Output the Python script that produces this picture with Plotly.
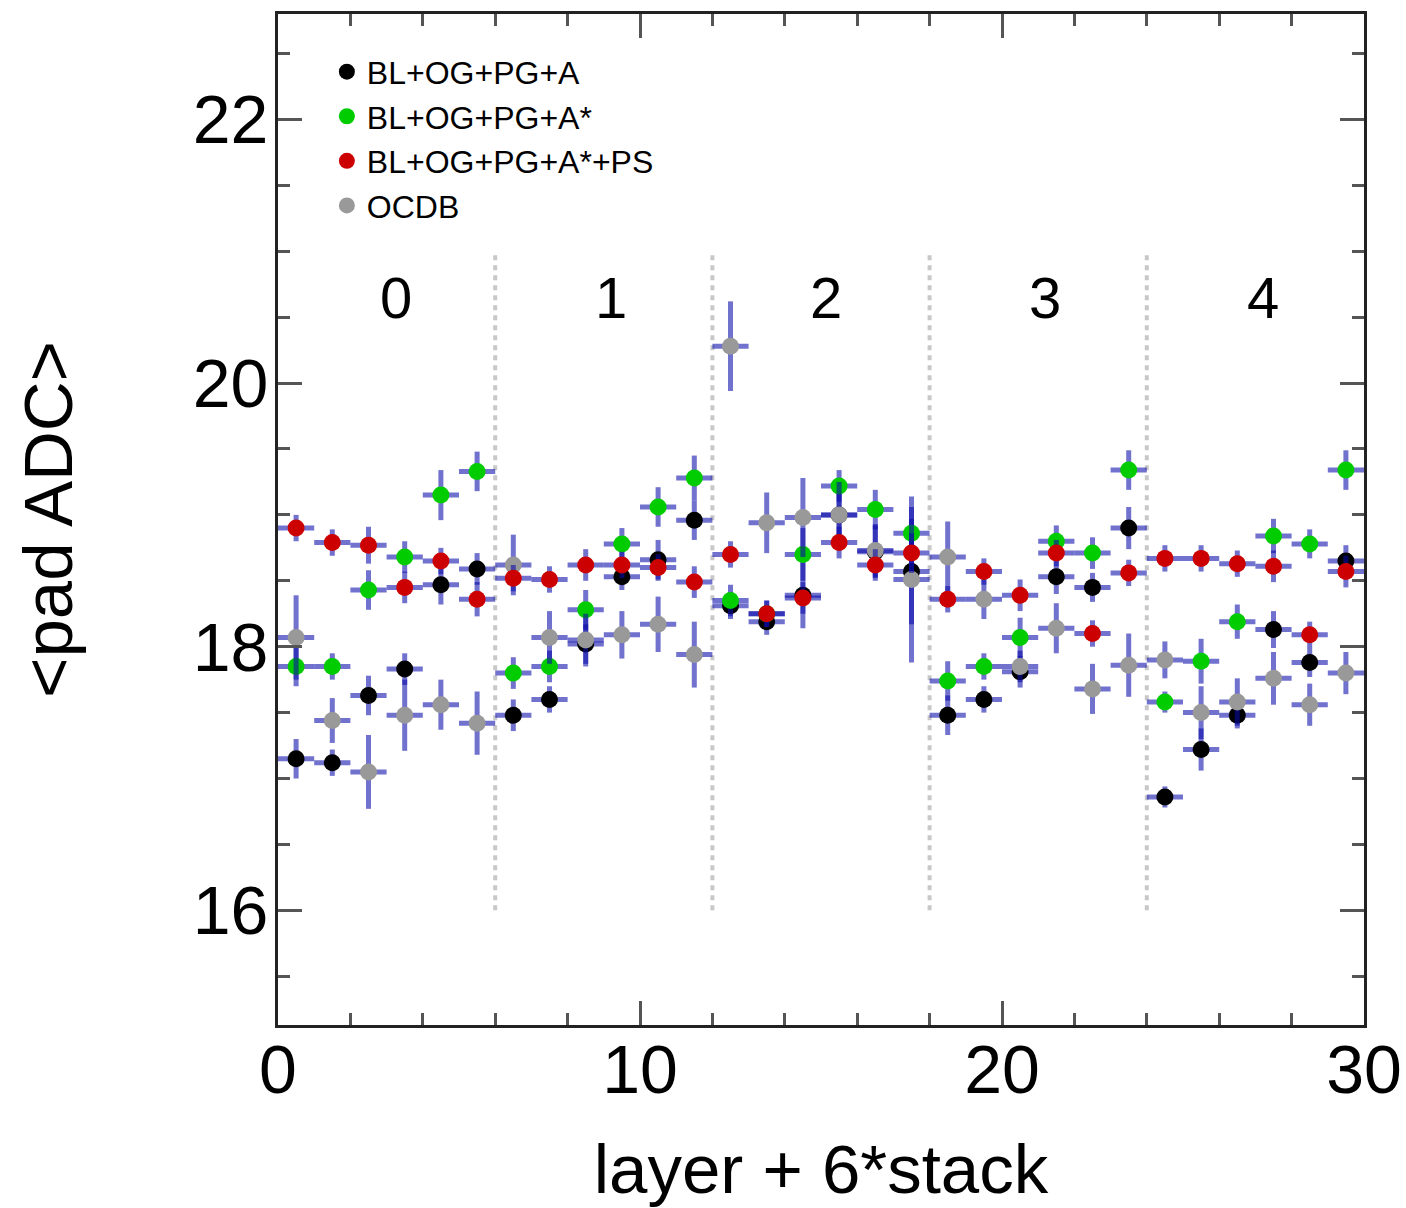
import plotly.graph_objects as go

# ---------------- data ----------------
bin_centers = [0.5, 1.5, 2.5, 3.5, 4.5, 5.5, 6.5, 7.5, 8.5, 9.5,
               10.5, 11.5, 12.5, 13.5, 14.5, 15.5, 16.5, 17.5, 18.5, 19.5,
               20.5, 21.5, 22.5, 23.5, 24.5, 25.5, 26.5, 27.5, 28.5, 29.5]
bin_halfwidth = [0.5] * 30

names = ["BL+OG+PG+A", "BL+OG+PG+A*", "BL+OG+PG+A*+PS", "OCDB"]

black_y = [17.15, 17.12, 17.63, 17.83, 18.47, 18.59, 17.48, 17.60, 18.02, 18.53,
           18.66, 18.96, 18.31, 18.19, 18.39, 19.00, 18.72, 18.57, 17.48, 17.60,
           17.81, 18.53, 18.45, 18.90, 16.86, 17.22, 17.48, 18.13, 17.88, 18.65]
black_err = [0.15, 0.10, 0.15, 0.12, 0.15, 0.12, 0.12, 0.10, 0.15, 0.10,
             0.15, 0.15, 0.10, 0.10, 0.25, 0.20, 0.20, 0.40, 0.15, 0.10,
             0.12, 0.13, 0.11, 0.16, 0.08, 0.16, 0.10, 0.14, 0.11, 0.12]

green_y = [17.85, 17.85, 18.43, 18.68, 19.15, 19.33, 17.80, 17.85, 18.28, 18.78,
           19.06, 19.28, 18.35, 18.25, 18.70, 19.22, 19.04, 18.86, 17.74, 17.85,
           18.07, 18.80, 18.71, 19.34, 17.58, 17.89, 18.19, 18.84, 18.78, 19.34]
green_err = [0.15, 0.10, 0.15, 0.12, 0.19, 0.15, 0.12, 0.12, 0.15, 0.12,
             0.15, 0.17, 0.12, 0.10, 0.20, 0.12, 0.15, 0.20, 0.15, 0.10,
             0.15, 0.12, 0.12, 0.15, 0.08, 0.17, 0.13, 0.13, 0.11, 0.15]

red_y = [18.90, 18.79, 18.77, 18.45, 18.65, 18.36, 18.52, 18.51, 18.62, 18.62,
         18.60, 18.49, 18.70, 18.25, 18.37, 18.79, 18.62, 18.71, 18.36, 18.57,
         18.39, 18.71, 18.10, 18.56, 18.67, 18.67, 18.63, 18.61, 18.09, 18.57]
red_err = [0.10, 0.10, 0.14, 0.12, 0.10, 0.13, 0.10, 0.10, 0.12, 0.10,
           0.10, 0.12, 0.10, 0.10, 0.12, 0.12, 0.12, 0.15, 0.10, 0.10,
           0.12, 0.10, 0.10, 0.10, 0.10, 0.10, 0.10, 0.12, 0.10, 0.12]

gray_y = [18.07, 17.44, 17.05, 17.48, 17.56, 17.42, 18.62, 18.07, 18.05, 18.09,
          18.17, 17.94, 20.28, 18.94, 18.98, 19.00, 18.73, 18.51, 18.68, 18.36,
          17.85, 18.14, 17.68, 17.86, 17.90, 17.50, 17.58, 17.76, 17.56, 17.80]
gray_err = [0.32, 0.17, 0.28, 0.27, 0.19, 0.24, 0.23, 0.20, 0.20, 0.18,
            0.21, 0.25, 0.34, 0.23, 0.30, 0.25, 0.20, 0.63, 0.27, 0.15,
            0.12, 0.19, 0.19, 0.24, 0.14, 0.20, 0.18, 0.20, 0.16, 0.16]

stack_labels = ["0", "1", "2", "3", "4"]
stack_label_x = [3.25, 9.2, 15.15, 21.2, 27.2]
stack_label_y = 20.65
stack_boundaries = [6, 12, 18, 24]

# ---------------- style ----------------
FONT = "Liberation Sans, Arial, Helvetica, sans-serif"
ERR_COLOR = "rgba(10,10,170,0.58)"
series = [  # drawing order: black, green, gray, red
    (names[0], black_y, black_err, "#000000", 1),
    (names[1], green_y, green_err, "#00cc00", 2),
    (names[3], gray_y, gray_err, "#999999", 4),
    (names[2], red_y, red_err, "#cc0000", 3),
]

fig = go.Figure()
for name, ys, errs, color, rank in series:
    fig.add_trace(go.Scatter(
        x=bin_centers, y=ys, mode="markers", name=name, legendrank=rank,
        marker=dict(color=color, size=17, line=dict(width=0)),
        error_y=dict(type="data", array=errs, color=ERR_COLOR, thickness=5, width=0),
        error_x=dict(type="data", array=bin_halfwidth, color=ERR_COLOR, thickness=5, width=0),
    ))

for xb in stack_boundaries:
    fig.add_shape(type="line", x0=xb, x1=xb, y0=16, y1=21, xref="x", yref="y",
                  line=dict(color="#c8c8c8", width=4, dash="5px,5px"), layer="below")

for lbl, lx in zip(stack_labels, stack_label_x):
    fig.add_annotation(x=lx, y=stack_label_y, text=lbl, showarrow=False,
                       font=dict(family=FONT, size=58, color="#000"))

axis_common = dict(
    showgrid=False, zeroline=False, showline=True, linecolor="#222222", linewidth=3,
    mirror="allticks", ticks="inside", tickcolor="#555555", tickwidth=3, ticklen=24,
    tickfont=dict(family=FONT, size=68, color="#000"), automargin=False,
)

fig.update_xaxes(**axis_common, range=[0, 30], tickmode="linear", tick0=0, dtick=10,
                 ticklabelstandoff=-17,
                 minor=dict(ticks="inside", dtick=2, ticklen=12, tickcolor="#555555", tickwidth=3),
                 title=dict(text="layer + 6*stack", font=dict(family=FONT, size=69, color="#000"),
                            standoff=40))
fig.update_yaxes(**axis_common, range=[15.13, 22.8], tickmode="linear", tick0=16, dtick=2,
                 ticklabelstandoff=-7,
                 minor=dict(ticks="inside", dtick=0.5, ticklen=12, tickcolor="#555555", tickwidth=3),
                 title=dict(text="&lt;pad ADC&gt;", font=dict(family=FONT, size=69, color="#000"),
                            standoff=98))

fig.update_layout(
    width=1406, height=1208,
    margin=dict(l=278, r=42, t=14, b=183),
    paper_bgcolor="white", plot_bgcolor="white",
    showlegend=True,
    legend=dict(x=0.045, y=0.97, xanchor="left", yanchor="top",
                bgcolor="rgba(0,0,0,0)", borderwidth=0,
                font=dict(family=FONT, size=32, color="#000"),
                itemsizing="trace", tracegroupgap=0),
)

fig.write_html("out.html")
